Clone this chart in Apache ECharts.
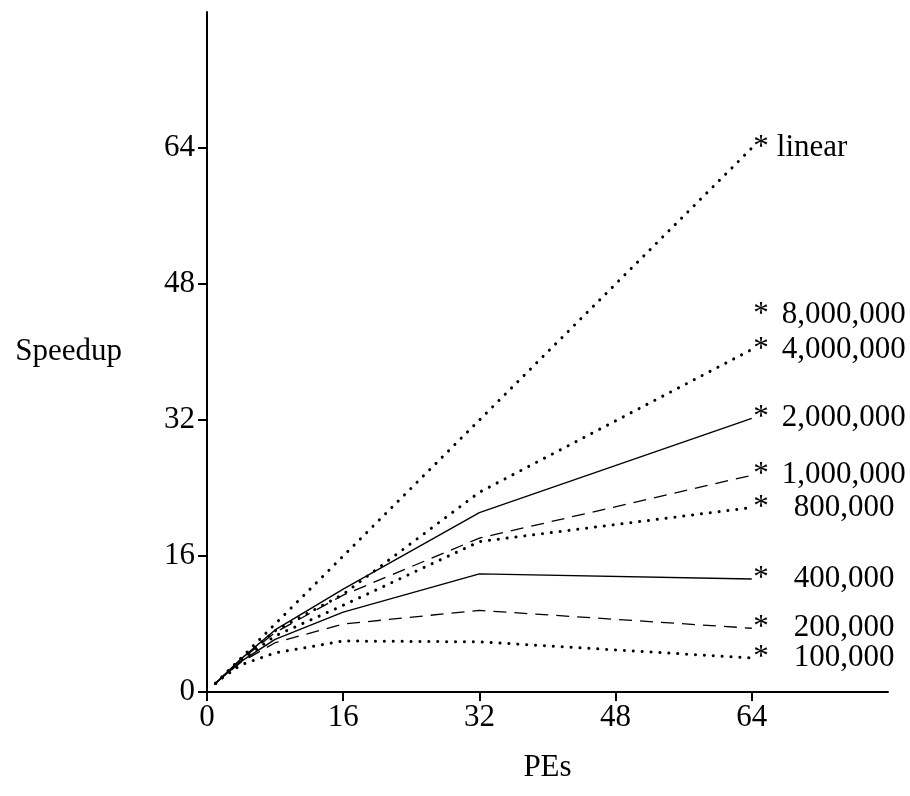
<!DOCTYPE html>
<html>
<head>
<meta charset="utf-8">
<script src="https://cdn.jsdelivr.net/npm/echarts@6/dist/echarts.min.js"></script>
<style>
html,body{margin:0;padding:0;background:#fff;}
#main{width:910px;height:796px;}
</style>
</head>
<body>
<div id="main"></div>
<script>
// ---- data ----
const pes = [1, 2, 4, 8, 16, 32, 64];
const seriesNames = ["linear", "8,000,000", "4,000,000", "2,000,000", "1,000,000", "800,000", "400,000", "200,000", "100,000"];
const linear    = [1, 2, 4, 8, 16, 32, 64];
const s8000000  = [null, null, null, null, null, null, 44.4];
const s4000000  = [1, 2, 3.9, 7.2, 11.5, 23.5, 40.3];
const s2000000  = [1, 2, 3.9, 7.3, 12.1, 21.1, 32.2];
const s1000000  = [1, 2, 3.8, 7.0, 11.4, 18.1, 25.5];
const s800000   = [1, 1.9, 3.7, 6.6, 10.2, 17.7, 21.7];
const s400000   = [1, 1.9, 3.6, 6.2, 9.4, 13.9, 13.3];
const s200000   = [1, 1.9, 3.5, 5.8, 8.0, 9.6, 7.5];
const s100000   = [1, 1.8, 3.2, 4.6, 6.0, 5.9, 4.0];
const xTicks = [0, 16, 32, 48, 64];
const yTicks = [0, 16, 32, 48, 64];

// ---- styles ----
const FONT = '"Liberation Serif", "DejaVu Serif", serif';
const FS = 31;
const values = [linear, s8000000, s4000000, s2000000, s1000000, s800000, s400000, s200000, s100000];
const lineTypes = ['dot', 'none', 'dot', 'solid', 'dash', 'dot', 'solid', 'dash', 'dot'];
const gaps = [8, 13, 13, 13, 13, 25, 25, 25, 25];

function lineStyleFor(t) {
  if (t === 'dot') return {color: '#000', width: 3, type: [0.1, 8.8], cap: 'round'};
  if (t === 'dash') return {color: '#000', width: 1.3, type: [13, 8]};
  if (t === 'none') return {color: '#000', width: 0, opacity: 0};
  return {color: '#000', width: 1.4, type: 'solid'};
}

const series = seriesNames.map((name, i) => {
  const vals = values[i];
  const last = vals.length - 1;
  return {
    type: 'line',
    name: name,
    data: pes.map((x, k) => vals[k] == null ? null : [x, vals[k]]),
    showSymbol: true,
    symbol: 'circle',
    symbolSize: 1,
    itemStyle: {color: 'rgba(0,0,0,0)', borderWidth: 0},
    lineStyle: lineStyleFor(lineTypes[i]),
    connectNulls: false,
    silent: true,
    animation: false,
    labelLayout: {hideOverlap: false},
    label: {
      show: true,
      position: 'right',
      distance: 1,
      offset: [0, -3],
      color: '#000',
      formatter: p => p.dataIndex === last ? '{s|*}{n|' + name + '}' : '',
      rich: {
        s: {fontFamily: FONT, fontSize: FS, color: '#000'},
        n: {fontFamily: FONT, fontSize: FS, color: '#000', padding: [0, 0, 0, gaps[i]]}
      }
    }
  };
});

const chart = echarts.init(document.getElementById('main'));
chart.setOption({
  backgroundColor: '#fff',
  animation: false,
  grid: {left: 207, right: 22, top: 12, bottom: 104, containLabel: false},
  xAxis: {
    type: 'value', min: 0, max: 80, interval: 16,
    name: 'PEs', nameLocation: 'middle', nameGap: 60,
    nameTextStyle: {fontFamily: FONT, fontSize: FS, color: '#000'},
    axisLine: {lineStyle: {color: '#000', width: 2}},
    axisTick: {length: 9, lineStyle: {color: '#000', width: 2}, customValues: xTicks},
    axisLabel: {fontFamily: FONT, fontSize: FS, color: '#000', margin: 10, customValues: xTicks},
    splitLine: {show: false}
  },
  yAxis: {
    type: 'value', min: 0, max: 80, interval: 16,
    name: 'Speedup', nameLocation: 'middle', nameGap: 85, nameRotate: 0,
    nameTextStyle: {fontFamily: FONT, fontSize: FS, color: '#000'},
    axisLine: {lineStyle: {color: '#000', width: 2}},
    axisTick: {length: 9, lineStyle: {color: '#000', width: 2}, customValues: yTicks},
    axisLabel: {fontFamily: FONT, fontSize: FS, color: '#000', margin: 12, customValues: yTicks},
    splitLine: {show: false}
  },
  series: series
});
</script>
</body>
</html>
